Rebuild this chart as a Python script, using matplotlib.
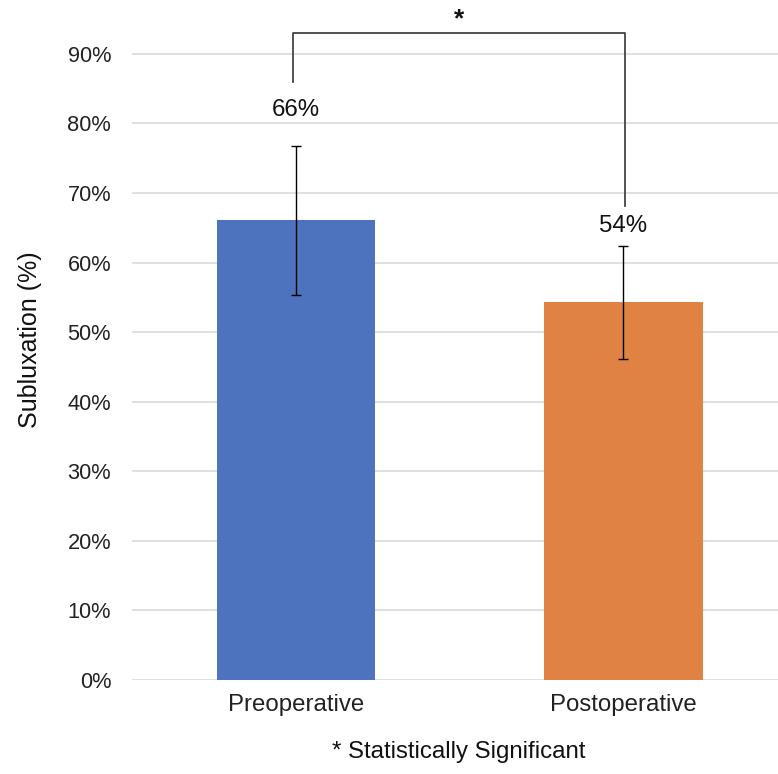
import numpy as np
import matplotlib
matplotlib.use("Agg")
import matplotlib.pyplot as plt

plt.rcParams['font.family'] = ['Liberation Sans', 'DejaVu Sans']

# data
categories = ["Preoperative", "Postoperative"]
values = [0.661, 0.543]
errors = [0.107, 0.081]
bar_labels = ["66%", "54%"]
bar_colors = ["#4e73be", "#e08244"]
yticks = np.arange(0, 1.0, 0.1)

fig = plt.figure(figsize=(7.78, 7.74), dpi=100)
ax = fig.add_axes([132/778, 1 - 680/774, 1 - 132/778, (680 - 33)/774])

x = np.arange(len(categories))
ax.bar(x, values, width=0.484, color=bar_colors, zorder=2)
ax.errorbar(x, values, yerr=errors, fmt="none", ecolor="black",
            elinewidth=1, capsize=3.5, capthick=1, zorder=3)

ax.set_xlim(-0.5, 1.472)
ax.set_ylim(0, 0.93)
ax.set_yticks(yticks)
ax.set_yticklabels([f"{int(round(t*100))}%" for t in yticks], fontsize=15.7)
ax.set_xticks(x)
ax.set_xticklabels(categories, fontsize=17.3)
ax.tick_params(axis="both", length=0, colors="#222222")
ax.tick_params(axis="y", pad=15)
ax.tick_params(axis="x", pad=10)
ax.yaxis.grid(True, color="#dadada", linewidth=1.2, zorder=0)
for s in ax.spines.values():
    s.set_visible(False)

ax.set_ylabel("Subluxation (%)", fontsize=18, color="#111111")
ax.yaxis.set_label_coords(-(132 - 42) / 646, (680 - 340) / 647)

# value labels above bars
label_y = [0.82, 0.652]
for xi, ly, txt in zip(x, label_y, bar_labels):
    ax.text(xi, ly, txt, ha="center", va="center", fontsize=17.3, color="#111111")

# significance bracket
br_top = 0.93
br_left = 0.859
br_right = 0.682
ax.plot([x[0] - 0.01, x[0] - 0.01, x[1] + 0.005, x[1] + 0.005],
        [br_left, br_top, br_top, br_right],
        color="#444444", linewidth=1.3, clip_on=False, zorder=4)
ax.text((x[0] + x[1]) / 2, 0.95, "*", ha="center", va="center",
        fontsize=19, fontweight="bold", color="#111111", clip_on=False)

fig.text(459/778, 1 - 752/774, "* Statistically Significant",
         ha="center", va="center", fontsize=17.3, color="#111111")

fig.savefig("out.png", dpi=100)
